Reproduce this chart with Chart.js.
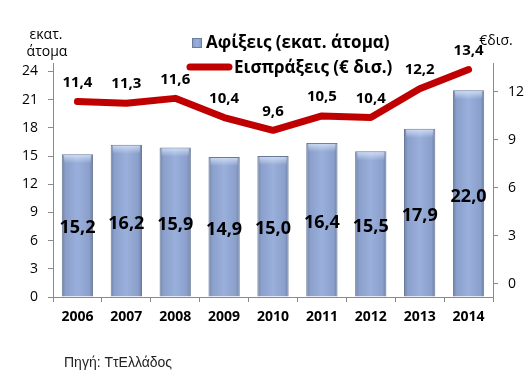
<!DOCTYPE html>
<html>
<head>
<meta charset="utf-8">
<script src="https://cdn.jsdelivr.net/npm/chart.js@4.4.1/dist/chart.umd.min.js"></script>
<style>
  html, body { margin: 0; padding: 0; background: #ffffff; }
  #wrap { width: 532px; height: 379px; position: relative; }
</style>
</head>
<body>
<div id="wrap"><canvas id="c" width="532" height="379"></canvas></div>
<script>
// ---- data ----
const categories = ['2006', '2007', '2008', '2009', '2010', '2011', '2012', '2013', '2014'];
const arrivals = [15.2, 16.2, 15.9, 14.9, 15.0, 16.4, 15.5, 17.9, 22.0];
const receipts = [11.4, 11.3, 11.6, 10.4, 9.6, 10.5, 10.4, 12.2, 13.4];
const leftTicks = [0, 3, 6, 9, 12, 15, 18, 21, 24];
const rightTicks = [0, 3, 6, 9, 12];
const arrivalsLabel = 'Αφίξεις (εκατ. άτομα)';
const receiptsLabel = 'Εισπράξεις (€ δισ.)';
const leftTitle = ['εκατ.', 'άτομα'];
const rightTitle = '€δισ.';
const sourceNote = 'Πηγή: ΤτΕλλάδος';

const FONT = "'Open Sans', 'DejaVu Sans', sans-serif";
const RED = '#c00000';
const BAR_PCT = 0.64;

function fmt(v) { return v.toFixed(1).replace('.', ','); }

function barGradient(ctx2d, x0, x1) {
  const g = ctx2d.createLinearGradient(x0, 0, x1, 0);
  g.addColorStop(0, '#6e82a8');
  g.addColorStop(0.12, '#8a9fca');
  g.addColorStop(0.5, '#9ab0dc');
  g.addColorStop(0.88, '#8a9fca');
  g.addColorStop(1, '#6a7ea3');
  return g;
}

const overlayPlugin = {
  id: 'overlay',
  afterDatasetDraw(chart, args) {
    const ctx = chart.ctx;
    if (args.index === 0) {
      args.meta.data.forEach(el => {
        const p = el.getProps(['x', 'y', 'width'], true);
        const g = ctx.createLinearGradient(0, p.y, 0, p.y + 9);
        g.addColorStop(0, 'rgba(230,240,255,0.75)');
        g.addColorStop(1, 'rgba(230,240,255,0)');
        ctx.save();
        ctx.fillStyle = g;
        ctx.fillRect(p.x - p.width / 2 + 2, p.y + 1, p.width - 4, 9);
        ctx.restore();
      });
    }
  },
  afterDatasetsDraw(chart) {
    const ctx = chart.ctx;
    ctx.save();
    ctx.fillStyle = '#000';
    ctx.textAlign = 'center';
    ctx.textBaseline = 'middle';
    ctx.font = "bold 18px " + FONT;
    chart.getDatasetMeta(0).data.forEach((el, i) => {
      const p = el.getProps(['x', 'y', 'base'], true);
      ctx.fillText(fmt(arrivals[i]), p.x, (p.y + p.base) / 2 + 3);
    });
    ctx.font = "bold 15px " + FONT;
    chart.getDatasetMeta(1).data.forEach((el, i) => {
      const p = el.getProps(['x', 'y'], true);
      ctx.fillText(fmt(receipts[i]), p.x, p.y - 19);
    });
    ctx.restore();
  },
  afterDraw(chart) {
    const ctx = chart.ctx;
    ctx.save();
    const sx = 192, sy = 38, ss = 10;
    ctx.fillStyle = barGradient(ctx, sx, sx + ss);
    ctx.fillRect(sx, sy, ss, ss);
    ctx.strokeStyle = '#6c7c9c';
    ctx.lineWidth = 1;
    ctx.strokeRect(sx + 0.5, sy + 0.5, ss - 1, ss - 1);
    ctx.fillStyle = '#000';
    ctx.textAlign = 'left';
    ctx.textBaseline = 'middle';
    ctx.font = "bold 17px " + FONT;
    ctx.fillText(arrivalsLabel, 206, 43);
    ctx.strokeStyle = RED;
    ctx.lineWidth = 7;
    ctx.lineCap = 'round';
    ctx.beginPath();
    ctx.moveTo(190, 67);
    ctx.lineTo(229, 67);
    ctx.stroke();
    ctx.fillText(receiptsLabel, 234, 68);
    ctx.font = "14px " + FONT;
    ctx.textAlign = 'center';
    ctx.fillText(leftTitle[0], 46, 35);
    ctx.fillText(leftTitle[1], 47, 52);
    ctx.fillText(rightTitle, 496, 41);
    ctx.font = "14px 'Liberation Sans', Arial, sans-serif";
    ctx.textAlign = 'left';
    ctx.fillStyle = '#222';
    ctx.fillText(sourceNote, 64, 363);
    ctx.restore();
  }
};

const axisGray = '#8a8a8a';

new Chart(document.getElementById('c'), {
  data: {
    labels: categories,
    datasets: [
      {
        type: 'bar',
        label: arrivalsLabel,
        data: arrivals,
        yAxisID: 'y',
        order: 2,
        categoryPercentage: 1,
        barPercentage: BAR_PCT,
        borderWidth: 1,
        borderColor: '#687897',
        backgroundColor: (c) => {
          const xs = c.chart.scales && c.chart.scales.x;
          if (!xs || c.type !== 'data') return '#8ea3cc';
          const cx = xs.getPixelForValue(c.dataIndex);
          const w = (xs.width / categories.length) * BAR_PCT;
          if (!isFinite(cx) || !isFinite(w) || w <= 0) return '#8ea3cc';
          return barGradient(c.chart.ctx, cx - w / 2, cx + w / 2);
        }
      },
      {
        type: 'line',
        label: receiptsLabel,
        data: receipts,
        yAxisID: 'y1',
        order: 1,
        borderColor: RED,
        borderWidth: 7,
        borderCapStyle: 'round',
        borderJoinStyle: 'round',
        pointRadius: 0,
        tension: 0,
        fill: false,
        clip: false
      }
    ]
  },
  options: {
    responsive: false,
    animation: false,
    devicePixelRatio: 1,
    layout: { padding: { top: 63, left: 0, right: 0, bottom: 0 } },
    plugins: { legend: { display: false }, tooltip: { enabled: false } },
    scales: {
      x: {
        offset: true,
        grid: { offset: true, drawOnChartArea: false, drawTicks: true, tickLength: 5, color: axisGray },
        border: { color: axisGray },
        ticks: { color: '#000', padding: 7, font: { family: FONT, size: 14, weight: 'bold' }, maxRotation: 0 },
        afterFit(s) { s.height = 82; }
      },
      y: {
        position: 'left',
        min: 0,
        max: 24.9,
        afterBuildTicks(s) { s.ticks = leftTicks.map(v => ({ value: v })); },
        grid: { drawOnChartArea: false, drawTicks: true, tickLength: 5, color: axisGray },
        border: { color: axisGray },
        ticks: { color: '#000', padding: 10, font: { family: FONT, size: 14 } },
        afterFit(s) { s.width = 53; }
      },
      y1: {
        position: 'right',
        min: -0.8125,
        max: 13.81,
        afterBuildTicks(s) { s.ticks = rightTicks.map(v => ({ value: v })); },
        grid: { drawOnChartArea: false, drawTicks: true, tickLength: 5, color: axisGray },
        border: { color: axisGray },
        ticks: { color: '#000', padding: 10, font: { family: FONT, size: 14 } },
        afterFit(s) { s.width = 39; }
      }
    }
  },
  plugins: [overlayPlugin]
});
</script>
</body>
</html>
